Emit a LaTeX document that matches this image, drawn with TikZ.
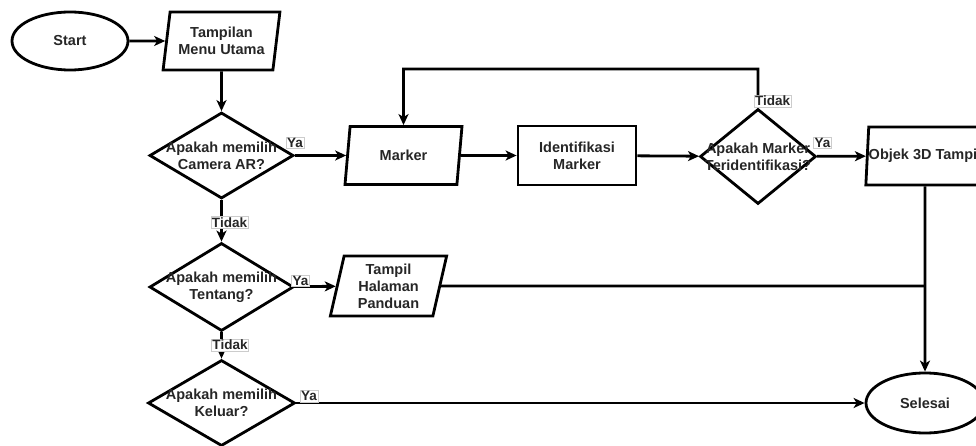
\documentclass[tikz,border=0pt]{standalone}
\usepackage{fontspec}
\setmainfont{Liberation Sans}
\usetikzlibrary{shapes.geometric,arrows.meta}

\begin{document}
\begin{tikzpicture}[x=1pt,y=-1pt,line width=2.8pt,
    >={Stealth[length=11pt,width=10pt,inset=3pt]},
    font=\bfseries\fontsize{14.5}{17}\selectfont,text=black!85,
    terminal/.style={ellipse,draw,minimum width=116,minimum height=58,inner sep=0pt},
    io/.style={trapezium,trapezium left angle=78,trapezium right angle=102,
        trapezium stretches=true,draw,align=center,minimum width=117,minimum height=58,inner sep=0pt},
    process/.style={rectangle,draw,align=center,minimum width=118,minimum height=59,inner sep=0pt},
    decision/.style={diamond,draw,minimum width=144,minimum height=86,inner sep=0pt},
    dectext/.style={align=center,inner sep=0pt},
    answer/.style={fill=white,draw=black!20,line width=0.4pt,inner sep=1pt,
        font=\bfseries\fontsize{13.5}{14}\selectfont}]
                \useasboundingbox (0,0) rectangle (976,446);

                \node[terminal] (start) at (70,41) {Start};
                \node[io] (menu) at (221.5,41) {Tampilan\\Menu Utama};
                \node[decision,label={[dectext]center:Apakah memilih\\Camera AR?}] (camera) at (221.5,155.5) {};

                \node[io] (marker) at (403.5,155.5) {Marker};
                \node[process] (ident) at (577,155.5) {Identifikasi\\Marker};
                \node[decision,minimum width=116,minimum height=95,
                    label={[dectext]center:Apakah Marker\\Teridentifikasi?}] (check) at (758,156.5) {};
                \node[io] (objek) at (925,156) {Objek 3D Tampil};

                \node[decision,minimum height=88,label={[dectext]center:Apakah memilih\\Tentang?}] (tentang) at (221.5,287) {};
                \node[io,minimum height=60] (panduan) at (388.5,286) {Tampil\\Halaman\\Panduan};

                \node[decision,minimum width=147,label={[dectext]center:Apakah memilih\\Keluar?}] (keluar) at (221.5,403) {};
                \node[terminal,minimum width=118,minimum height=60] (selesai) at (925,403) {Selesai};

                \coordinate (back) at (403.5,69);
                \coordinate (join) at (925,286);

                \draw[->] (start) -- (menu);
                \draw[->] (menu) -- (camera);
                \draw[->] (camera) -- (marker);
                \draw[->] (marker) -- (ident);
                \draw[->] (ident) -- (check);
                \draw[->] (check) -- (objek);
                \draw[->] (check) |- (back) -- (marker);
                \draw[->] (camera) -- (tentang);
                \draw[->] (tentang) -- (panduan);
                \draw[->] (tentang) -- (keluar);
                \draw[->] (keluar) -- (selesai);
                \draw[->] (objek) -- (selesai);
                \draw (panduan) -- (join);

                \node[answer] (ya1) at (295,142.5) {Ya};
                \node[answer] (ya2) at (822.5,142.5) {Ya};
                \node[answer] (ya3) at (300.5,280.5) {Ya};
                \node[answer] (ya4) at (309,396) {Ya};
                \node[answer] (tidak1) at (229.5,222.5) {Tidak};
                \node[answer] (tidak2) at (230,345) {Tidak};
                \node[answer] (tidak3) at (772.5,101) {Tidak};
            \end{tikzpicture}
\end{document}
